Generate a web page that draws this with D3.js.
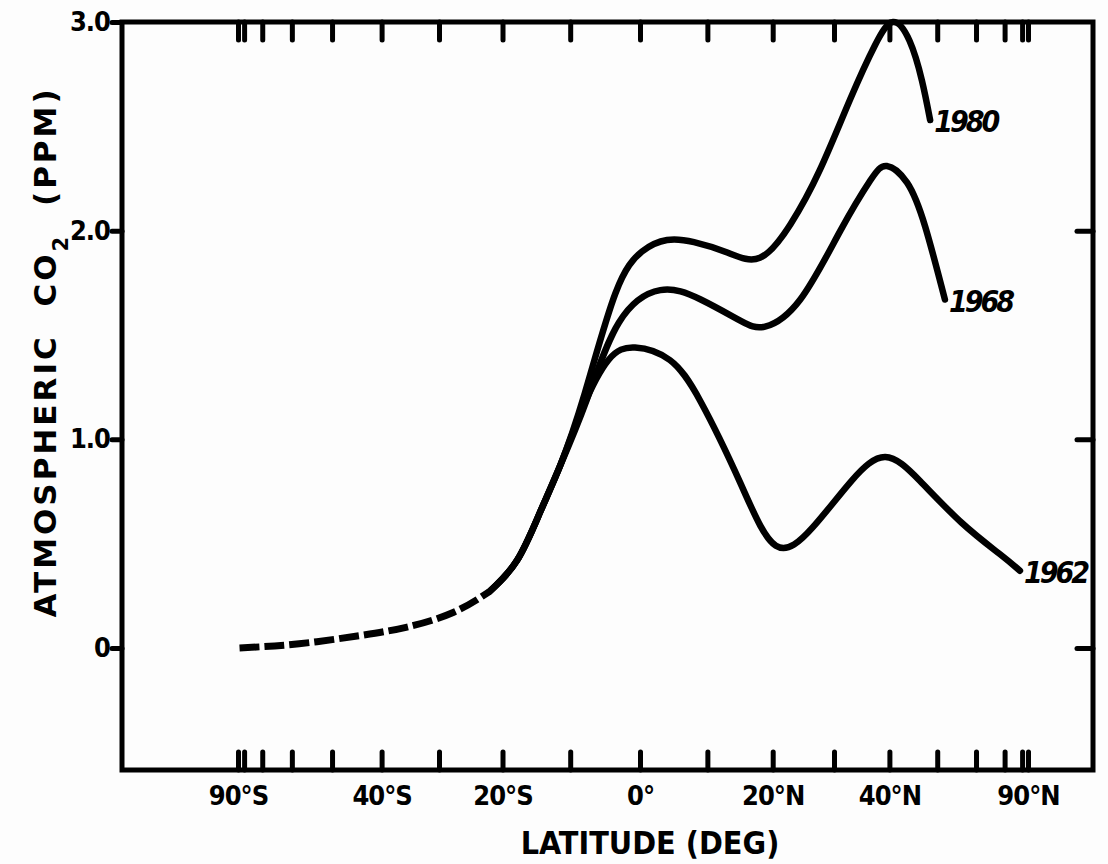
<!DOCTYPE html>
<html>
<head>
<meta charset="utf-8">
<script src="https://cdn.jsdelivr.net/npm/d3@7"></script>
<style>
  body { margin: 0; background: #fdfdfd; }
  text { font-family: "DejaVu Sans Condensed", "Liberation Sans Narrow", "DejaVu Sans", sans-serif; font-weight: bold; fill: #000; }
</style>
</head>
<body>
<script>
// Latitude ticks (degrees) and the labelled ones
const latTicks = d3.range(-90, 91, 10);
const latLabels = [-90, -40, -20, 0, 20, 40, 90];
const latLabelText = ["90°S", "40°S", "20°S", "0°", "20°N", "40°N", "90°N"];
const ppmTicks = [0, 1, 2, 3];

// [latitude, ppm]
const sharedDashed = [[-85, 0.0], [-58, 0.02], [-44, 0.06], [-35.4, 0.10], [-27.7, 0.17], [-22, 0.27]];
const sharedSolid = [[-22, 0.27], [-17.8, 0.42], [-14.4, 0.65], [-11.5, 0.87]];
const s1962 = [[-8.2, 1.15], [-4.5, 1.38], [-0.7, 1.44], [4.4, 1.38], [9, 1.18], [15, 0.79], [20.5, 0.49], [26.5, 0.58], [33, 0.80], [39.2, 0.915], [46.2, 0.80], [56, 0.60], [68, 0.45], [78.3, 0.37]];
const s1968 = [[-7.6, 1.19], [-3, 1.56], [3, 1.715], [9, 1.67], [14.9, 1.57], [18.8, 1.54], [24.4, 1.67], [31.1, 2.0], [36.4, 2.24], [39.5, 2.31], [43.5, 2.23], [47.3, 2.02], [51.8, 1.67]];
const s1980 = [[-7.9, 1.22], [-3.5, 1.70], [0.3, 1.90], [4, 1.955], [8, 1.945], [13, 1.895], [18, 1.87], [22.8, 2.03], [27.6, 2.29], [32.8, 2.63], [37.3, 2.89], [40.7, 3.0], [44, 2.91], [46.6, 2.72], [48.4, 2.53]];
const seriesNames = ["1962", "1968", "1980"];
const seriesData = [s1962, s1968, s1980];

const width = 1108, height = 864;
const frame = { left: 122, right: 1093, top: 22, bottom: 770 };

const svg = d3.select("body").append("svg")
    .attr("width", width)
    .attr("height", height);

// x is area-weighted: linear in sin(latitude)
const sinLat = d => Math.sin(d * Math.PI / 180);
const x = d3.scaleLinear().domain([-1, 0, 1]).range([238, 640, 1028]);
const y = d3.scaleLinear().domain([-0.585, 3.0]).range([frame.bottom, frame.top]);
const xLat = d => x(sinLat(d));

// frame
svg.append("rect")
    .attr("x", frame.left).attr("y", frame.top)
    .attr("width", frame.right - frame.left)
    .attr("height", frame.bottom - frame.top)
    .attr("fill", "none").attr("stroke", "#000").attr("stroke-width", 5);

function styleTicks(g) {
    g.select(".domain").remove();
    g.selectAll(".tick line").attr("stroke", "#000").attr("stroke-width", 5).attr("stroke-linecap", "round");
}

// inward ticks, top and bottom
svg.append("g").attr("transform", `translate(0,${frame.bottom})`)
    .call(d3.axisBottom(x).tickValues(latTicks.map(sinLat)).tickSize(-18).tickFormat(""))
    .call(styleTicks);
svg.append("g").attr("transform", `translate(0,${frame.top})`)
    .call(d3.axisTop(x).tickValues(latTicks.map(sinLat)).tickSize(-18).tickFormat(""))
    .call(styleTicks);

// latitude labels
svg.append("g").attr("transform", `translate(0,${frame.bottom})`)
    .call(d3.axisBottom(x).tickValues(latLabels.map(sinLat)).tickSize(0).tickPadding(16)
        .tickFormat((d, i) => latLabelText[i]))
    .call(g => g.select(".domain").remove())
    .selectAll("text").style("font-size", "27px").style("letter-spacing", "-1px");

// left ticks (outward) with labels, right ticks (inward)
svg.append("g").attr("transform", `translate(${frame.left},0)`)
    .call(d3.axisLeft(y).tickValues(ppmTicks).tickSize(10).tickPadding(2)
        .tickFormat(d => d === 0 ? "0" : d.toFixed(1)))
    .call(styleTicks)
    .selectAll("text").style("font-size", "27px").style("letter-spacing", "-1px");
svg.append("g").attr("transform", `translate(${frame.right},0)`)
    .call(d3.axisRight(y).tickValues([0, 1, 2]).tickSize(-16).tickFormat(""))
    .call(styleTicks);

// axis titles
svg.append("text")
    .attr("x", 650).attr("y", 854)
    .attr("text-anchor", "middle")
    .style("font-size", "32px")
    .text("LATITUDE (DEG)");

const yTitle = svg.append("text")
    .attr("transform", "translate(56,352) rotate(-90)")
    .attr("text-anchor", "middle")
    .style("font-family", "'DejaVu Sans', sans-serif")
    .style("font-size", "31px")
    .style("letter-spacing", "3px")
    .style("word-spacing", "14px");
yTitle.append("tspan").text("ATMOSPHERIC CO");
yTitle.append("tspan").attr("baseline-shift", "sub").style("font-size", "21px").text("2");
yTitle.append("tspan").text(" (PPM)");

// curves
const line = d3.line()
    .x(d => xLat(d[0]))
    .y(d => y(d[1]))
    .curve(d3.curveNatural);

svg.append("path")
    .attr("d", line(sharedDashed))
    .attr("fill", "none").attr("stroke", "#000")
    .attr("stroke-width", 7).attr("stroke-dasharray", "20 5");

seriesData.forEach((s, i) => {
    svg.append("path")
        .attr("d", line(sharedSolid.concat(s)))
        .attr("fill", "none").attr("stroke", "#000")
        .attr("stroke-width", 6.5).attr("stroke-linecap", "round");
    const last = s[s.length - 1];
    svg.append("text")
        .attr("x", xLat(last[0]) + 4)
        .attr("y", y(last[1]) + 12)
        .style("font-size", "30px")
        .style("font-style", "italic")
        .style("letter-spacing", "-3px")
        .text(seriesNames[i]);
});
</script>
</body>
</html>
